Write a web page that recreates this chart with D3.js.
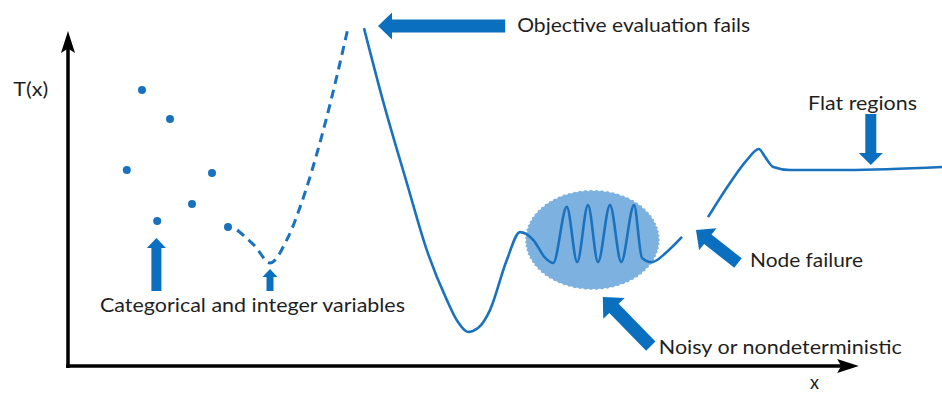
<!DOCTYPE html>
<html>
<head>
<meta charset="utf-8">
<script src="https://cdn.jsdelivr.net/npm/d3@7"></script>
<style>
  html, body { margin: 0; padding: 0; background: #ffffff; }
  svg { display: block; }
  text { font-family: Lato, "Open Sans", sans-serif; fill: #1f1f1f; }
</style>
</head>
<body>
<svg id="chart" width="942" height="395"></svg>
<script>
// ---- Data (conceptual units) ----
// categorical / integer samples
const dotX = [9.0, 12.5, 7.1, 17.75, 15.25, 10.9, 19.75];
const dotY = [91.7, 82.0, 65.0, 64.0, 53.7, 48.0, 46.0];

// dashed (relaxed integer) segment
const dashX = [20.9, 23.1, 25.0, 27.1, 29.6, 32.1, 34.75];
const dashY = [45.0, 39.7, 34.0, 41.7, 59.3, 82.7, 112.3];

// main continuous segment incl. noisy region
const curveX = [36.75, 39.1, 42.1, 44.6, 47.1, 48.5, 49.75, 51.0, 52.5, 54.6, 56.25, 57.9, 59.4, 60.4,
                62.1, 63.4, 64.75, 66.0, 67.5, 68.9, 70.5, 71.5, 72.75, 74.6, 76.5];
const curveY = [112.3, 88.3, 60.7, 38.3, 21.7, 14.3, 11.0, 12.3, 18.3, 35.0, 44.3, 41.7, 35.7, 34.0,
                52.7, 34.3, 53.3, 34.3, 53.3, 34.3, 53.3, 35.7, 34.3, 37.7, 42.7];

// segment after node failure, with flat region
const flatX = [79.75, 82.5, 84.6, 86.1, 86.9, 87.9, 90.0, 97.1, 109.0];
const flatY = [49.3, 60.7, 68.3, 72.0, 69.3, 66.0, 65.0, 65.0, 66.0];

// noisy region (center and radii in data units)
const noiseCenter = [65.3, 41.7];
const noiseRadius = [8.45, 16.7];

// annotations: text, anchor point
const labelText = ["Objective evaluation fails", "Categorical and integer variables",
                   "Noisy or nondeterministic", "Node failure", "Flat regions", "T(x)", "x"];
const labelX = [55.9, 3.75, 73.6, 85.0, 92.25, -7.1, 92.5];
const labelY = [111.0, 17.7, 3.7, 32.7, 85.0, 89.7, -8.0];
const labelW = [233, 305, 243, 113, 109, 35, 9];

// block arrows: tail -> tip (data units)
const arrowTail = [[54.4, 113.0], [10.8, 24.7], [25.0, 24.7], [72.6, 6.3], [83.5, 34.0], [100.1, 83.7]];
const arrowTip  = [[38.5, 113.0], [10.8, 42.3], [25.0, 32.0], [66.6, 22.7], [78.25, 45.0], [100.1, 66.7]];
const arrowSize = [[13, 27, 14], [10, 19, 10], [7, 15, 8], [13, 30, 16], [12, 28, 15], [11, 24, 12]];

// ---- Drawing ----
const svg = d3.select("#chart");
const x = d3.scaleLinear().domain([0, 109]).range([70, 942]);
const y = d3.scaleLinear().domain([0, 112.33]).range([365, 28]);

const LINE = "#1a72bf";
const ARROW = "#0b6fc0";

// noisy region ellipse with jagged edge
const [cx, cy] = [x(noiseCenter[0]), y(noiseCenter[1])];
const rx = x(noiseCenter[0] + noiseRadius[0]) - cx;
const ry = cy - y(noiseCenter[1] + noiseRadius[1]);
const N = 150;
const jag = d3.range(N).map(i => {
  const a = i / N * 2 * Math.PI;
  const k = i % 2 === 0 ? 1.0 : 0.975;
  return [cx + rx * k * Math.cos(a), cy + ry * k * Math.sin(a)];
});
svg.append("path")
  .attr("d", d3.line().curve(d3.curveLinearClosed)(jag))
  .attr("fill", "#7db2e0");

// axes
const axisG = svg.append("g");
const ax0 = x(-0.25), ay0 = y(-0.33);
axisG.append("line").attr("x1", ax0).attr("y1", ay0 + 2).attr("x2", ax0).attr("y2", y(107))
  .attr("stroke", "#000").attr("stroke-width", 3.5);
axisG.append("path")
  .attr("d", `M${ax0},${y(111.3)} L${ax0 - 7},${y(104)} L${ax0},${y(105.5)} L${ax0 + 7},${y(104)} Z`)
  .attr("fill", "#000");
axisG.append("line").attr("x1", ax0 - 2).attr("y1", ay0).attr("x2", x(96.5)).attr("y2", ay0)
  .attr("stroke", "#000").attr("stroke-width", 3.5);
axisG.append("path")
  .attr("d", `M${x(98.6)},${ay0} L${x(95.9)},${ay0 - 7} L${x(96.4)},${ay0} L${x(95.9)},${ay0 + 7} Z`)
  .attr("fill", "#000");

// curves
const line = d3.line().x(d => x(d[0])).y(d => y(d[1])).curve(d3.curveMonotoneX);
const zip = (a, b) => a.map((v, i) => [v, b[i]]);

svg.append("path").attr("d", line(zip(dashX, dashY)))
  .attr("fill", "none").attr("stroke", LINE).attr("stroke-width", 3)
  .attr("stroke-dasharray", "9,6");

svg.append("path").attr("d", line(zip(curveX, curveY)))
  .attr("fill", "none").attr("stroke", LINE).attr("stroke-width", 2.6);

svg.append("path").attr("d", line(zip(flatX, flatY)))
  .attr("fill", "none").attr("stroke", LINE).attr("stroke-width", 2.6);

// dots
svg.selectAll("circle.dot").data(zip(dotX, dotY)).join("circle")
  .attr("class", "dot")
  .attr("cx", d => x(d[0])).attr("cy", d => y(d[1])).attr("r", 4)
  .attr("fill", LINE);

// block arrows
arrowTail.forEach((t, i) => {
  const x0 = x(t[0]), y0 = y(t[1]);
  const x1 = x(arrowTip[i][0]), y1 = y(arrowTip[i][1]);
  const L = Math.hypot(x1 - x0, y1 - y0);
  const ang = Math.atan2(y1 - y0, x1 - x0) * 180 / Math.PI;
  const [sw, hw, hl] = arrowSize[i];
  const pts = [[0, -sw / 2], [L - hl, -sw / 2], [L - hl, -hw / 2], [L, 0],
               [L - hl, hw / 2], [L - hl, sw / 2], [0, sw / 2]];
  svg.append("polygon")
    .attr("points", pts.map(p => p.join(",")).join(" "))
    .attr("transform", `translate(${x0},${y0}) rotate(${ang})`)
    .attr("fill", ARROW);
});

// labels
svg.selectAll("text.lbl").data(labelText).join("text")
  .attr("class", "lbl")
  .attr("x", (d, i) => x(labelX[i]))
  .attr("y", (d, i) => y(labelY[i]))
  .attr("font-size", (d, i) => i === 6 ? 19 : 20)
  .attr("textLength", (d, i) => labelW[i])
  .attr("lengthAdjust", "spacingAndGlyphs")
  .text(d => d);
</script>
</body>
</html>
